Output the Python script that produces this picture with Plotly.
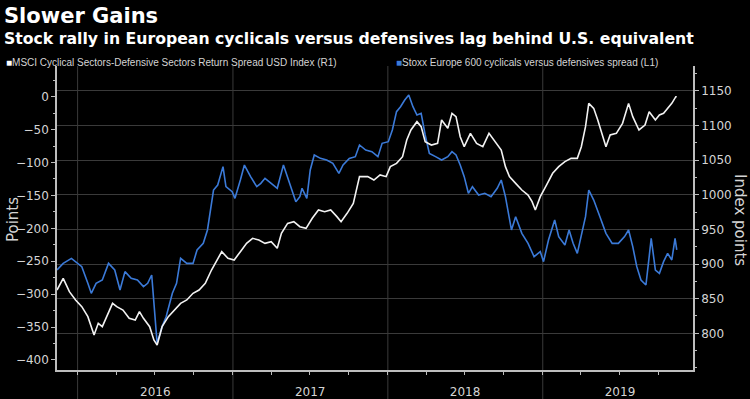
import datetime as dt
import plotly.graph_objects as go

# ---------------- data ----------------
# Stoxx Europe 600 cyclicals vs defensives spread (left axis, points); dates as decimal years
stoxx_t = [2015.867, 2015.907, 2015.960, 2015.987, 2016.027, 2016.066, 2016.088, 2016.119, 2016.159, 2016.199,
           2016.239, 2016.273, 2016.305, 2016.345, 2016.385, 2016.424, 2016.451, 2016.477, 2016.491, 2016.512,
           2016.544, 2016.570, 2016.610, 2016.637, 2016.663, 2016.703, 2016.743, 2016.769, 2016.809, 2016.836,
           2016.875, 2016.902, 2016.936, 2016.955, 2016.995, 2017.013, 2017.048, 2017.074, 2017.114, 2017.154,
           2017.180, 2017.207, 2017.247, 2017.286, 2017.326, 2017.366, 2017.406, 2017.432, 2017.446, 2017.477,
           2017.499, 2017.525, 2017.565, 2017.605, 2017.645, 2017.684, 2017.711, 2017.751, 2017.790, 2017.817,
           2017.857, 2017.897, 2017.936, 2017.963, 2018.003, 2018.029, 2018.056, 2018.082, 2018.109, 2018.135,
           2018.162, 2018.188, 2018.215, 2018.241, 2018.268, 2018.308, 2018.347, 2018.387, 2018.414, 2018.440,
           2018.467, 2018.493, 2018.520, 2018.546, 2018.586, 2018.626, 2018.666, 2018.706, 2018.732, 2018.759,
           2018.798, 2018.825, 2018.865, 2018.905, 2018.944, 2018.984, 2019.005, 2019.037, 2019.077, 2019.103,
           2019.143, 2019.170, 2019.196, 2019.223, 2019.249, 2019.276, 2019.297, 2019.329, 2019.369, 2019.408,
           2019.448, 2019.488, 2019.528, 2019.554, 2019.581, 2019.607, 2019.634, 2019.666, 2019.687, 2019.700,
           2019.727, 2019.753, 2019.780, 2019.806, 2019.833, 2019.854, 2019.865]
stoxx_v = [-263.3, -253.2, -245.6, -250.6, -258.2, -283.5, -298.7, -283.5, -278.5, -253.2,
           -263.3, -293.7, -265.8, -275.9, -278.5, -288.6, -283.5, -270.9, -313.9, -374.7,
           -349.3, -334.2, -298.7, -283.5, -245.6, -253.2, -253.2, -232.9, -222.8, -202.5,
           -141.8, -134.2, -106.3, -136.7, -144.3, -154.4, -126.6, -103.8, -121.5, -136.7,
           -131.6, -124.0, -131.6, -139.2, -103.8, -131.6, -159.5, -151.9, -139.2, -154.4,
           -111.4, -88.6, -93.7, -96.2, -101.3, -116.4, -103.8, -93.7, -91.1, -73.4,
           -81.0, -83.5, -91.1, -70.9, -68.4, -50.6, -22.8, -15.2, -5.1, 2.5,
           -15.2, -27.8, -25.3, -58.2, -86.1, -91.1, -96.2, -91.1, -83.5, -88.6,
           -103.8, -121.5, -146.8, -136.7, -149.4, -146.8, -151.9, -139.2, -126.6, -151.9,
           -202.5, -182.3, -207.6, -222.8, -243.0, -235.4, -250.6, -217.7, -187.3, -212.6,
           -225.3, -202.5, -222.8, -238.0, -212.6, -182.3, -141.8, -157.0, -182.3, -207.6,
           -222.8, -222.8, -212.6, -202.5, -227.8, -258.2, -278.5, -286.1, -243.0, -215.2,
           -263.3, -268.3, -250.6, -238.0, -248.1, -215.2, -232.9]

# MSCI Cyclical Sectors-Defensive Sectors Return Spread USD Index (right axis, index points)
msci_t = [2015.867, 2015.907, 2015.947, 2015.987, 2016.027, 2016.066, 2016.106, 2016.133, 2016.159, 2016.186,
          2016.225, 2016.252, 2016.292, 2016.332, 2016.371, 2016.398, 2016.424, 2016.464, 2016.491, 2016.512,
          2016.544, 2016.584, 2016.623, 2016.663, 2016.703, 2016.743, 2016.782, 2016.822, 2016.862, 2016.902,
          2016.928, 2016.968, 2017.008, 2017.048, 2017.088, 2017.127, 2017.167, 2017.207, 2017.247, 2017.286,
          2017.313, 2017.353, 2017.393, 2017.432, 2017.472, 2017.512, 2017.552, 2017.592, 2017.631, 2017.671,
          2017.698, 2017.737, 2017.777, 2017.817, 2017.870, 2017.910, 2017.950, 2017.989, 2018.016, 2018.056,
          2018.095, 2018.122, 2018.149, 2018.188, 2018.215, 2018.241, 2018.281, 2018.321, 2018.347, 2018.387,
          2018.414, 2018.440, 2018.467, 2018.493, 2018.533, 2018.573, 2018.613, 2018.653, 2018.692, 2018.732,
          2018.759, 2018.785, 2018.825, 2018.865, 2018.905, 2018.931, 2018.952, 2018.984, 2019.024, 2019.064,
          2019.103, 2019.143, 2019.183, 2019.223, 2019.249, 2019.276, 2019.297, 2019.329, 2019.355, 2019.382,
          2019.408, 2019.435, 2019.475, 2019.515, 2019.554, 2019.581, 2019.621, 2019.660, 2019.687, 2019.727,
          2019.753, 2019.780, 2019.806, 2019.833, 2019.859, 2019.865]
msci_v = [862.5, 879.3, 860.1, 848.1, 838.4, 824.0, 797.6, 814.4, 809.6, 824.0,
          843.2, 838.4, 833.6, 821.6, 819.2, 831.2, 821.6, 809.6, 790.4, 783.2,
          809.6, 824.0, 833.6, 843.2, 848.1, 857.7, 862.5, 872.1, 891.3, 908.2,
          917.8, 908.2, 905.8, 917.8, 929.8, 937.0, 934.6, 929.8, 932.2, 922.6,
          944.2, 958.6, 961.0, 953.8, 951.4, 965.9, 977.9, 975.5, 977.9, 968.3,
          961.0, 973.1, 987.5, 1026.0, 1026.0, 1021.1, 1028.4, 1026.0, 1040.4, 1045.2,
          1054.8, 1078.8, 1093.3, 1105.3, 1098.1, 1076.4, 1071.6, 1074.0, 1107.7, 1095.7,
          1117.3, 1112.5, 1083.6, 1069.2, 1088.5, 1074.0, 1069.2, 1088.5, 1076.4, 1064.4,
          1040.4, 1026.0, 1016.3, 1006.7, 999.5, 989.9, 977.9, 997.1, 1013.9, 1030.8,
          1040.4, 1047.6, 1052.4, 1052.4, 1069.2, 1098.1, 1131.7, 1124.5, 1107.7, 1088.5,
          1069.2, 1086.1, 1088.5, 1102.9, 1131.7, 1112.5, 1093.3, 1100.5, 1119.7, 1107.7,
          1114.9, 1117.3, 1124.5, 1131.7, 1141.3, 1141.3]

year_labels = ["2016", "2017", "2018", "2019"]
left_ticks = [0, -50, -100, -150, -200, -250, -300, -350, -400]
right_ticks = [800, 850, 900, 950, 1000, 1050, 1100, 1150]

title = "Slower Gains"
subtitle = "Stock rally in European cyclicals versus defensives lag behind U.S. equivalent"
msci_name = "MSCI Cyclical Sectors-Defensive Sectors Return Spread USD Index (R1)"
stoxx_name = "Stoxx Europe 600 cyclicals versus defensives spread (L1)"


def to_date(f):
    y = int(f)
    start = dt.datetime(y, 1, 1)
    days = (dt.datetime(y + 1, 1, 1) - start).days
    return start + dt.timedelta(days=(f - y) * days)


stoxx_d = [to_date(t) for t in stoxx_t]
msci_d = [to_date(t) for t in msci_t]

# ---------------- layout geometry ----------------
W, H = 750, 399
L, R, T, B = 57, 57, 66, 29
PW, PH = W - L - R, H - T - B


def px(x):
    return (x - L) / PW


def py(y):
    return (H - B - y) / PH


BLUE = "#3b7ad8"
WHITE = "#f2f2f2"
TXT = "#d4d4d4"
GRID = "#3a3a3a"
AXIS = "#bdbdbd"
TICKFONT = dict(family="DejaVu Sans, Liberation Sans, sans-serif", size=12, color=TXT)

fig = go.Figure()
fig.add_trace(go.Scatter(x=stoxx_d, y=stoxx_v, mode="lines", name=stoxx_name,
                         line=dict(color=BLUE, width=1.6), yaxis="y"))
fig.add_trace(go.Scatter(x=msci_d, y=msci_v, mode="lines", name=msci_name,
                         line=dict(color=WHITE, width=1.6), yaxis="y2"))

x_start = to_date(2015.867)
x_end = dt.datetime(2019, 12, 21)
years = [int(y) for y in year_labels]

fig.update_layout(
    width=W, height=H,
    margin=dict(l=L, r=R, t=T, b=B, pad=0, autoexpand=False),
    paper_bgcolor="black", plot_bgcolor="black",
    showlegend=False,
    xaxis=dict(
        type="date", range=[x_start, x_end], automargin=False,
        tickvals=[dt.datetime(y, 7, 2) for y in years], ticktext=year_labels,
        ticks="outside", ticklen=10, tickcolor="rgba(0,0,0,0)",
        tickfont=TICKFONT, showgrid=False, zeroline=False,
        showline=True, linecolor=AXIS, linewidth=1.5,
        minor=dict(tickvals=[dt.datetime(y, m, 1) for y in [2015] + years for m in (1, 4, 7, 10)
                             if x_start < dt.datetime(y, m, 1) < x_end],
                   ticks="outside", ticklen=3, tickcolor=AXIS, showgrid=False),
    ),
    yaxis=dict(
        range=[-415.2, 46.6], tickvals=left_ticks, ticks="outside", ticklen=4, tickcolor=AXIS,
        tickfont=TICKFONT, showgrid=False, zeroline=False, automargin=False,
        showline=True, linecolor=AXIS, linewidth=1.5,
        minor=dict(dtick=25, tick0=0, ticks="outside", ticklen=2, tickcolor=AXIS, showgrid=False),
    ),
    yaxis2=dict(
        range=[747.1, 1185.6], tickvals=right_ticks, side="right", overlaying="y",
        ticks="outside", ticklen=4, tickcolor=AXIS, tickfont=TICKFONT, automargin=False,
        showgrid=True, gridcolor=GRID, gridwidth=1, zeroline=False,
        showline=True, linecolor=AXIS, linewidth=1.5,
        minor=dict(dtick=25, tick0=0, ticks="outside", ticklen=2, tickcolor=AXIS, showgrid=False),
    ),
)

# year separators (extend below the axis)
for y in years:
    fig.add_shape(type="line", xref="x", yref="paper", x0=dt.datetime(y, 1, 1), x1=dt.datetime(y, 1, 1),
                  y0=py(H), y1=1, line=dict(color=GRID, width=1), layer="below")

ann = []
ann.append(dict(text="<b>" + title + "</b>", x=px(2), y=py(2), xanchor="left", yanchor="top",
                font=dict(family="DejaVu Sans", size=21, color="white")))
ann.append(dict(text="<b>" + subtitle + "</b>", x=px(2), y=py(27), xanchor="left", yanchor="top",
                font=dict(family="DejaVu Sans", size=15.7, color="white")))
LEGFONT = dict(family="Liberation Sans, Arial, sans-serif", size=10, color=TXT)
ann.append(dict(text="<span style='color:#ffffff'>■</span>" + msci_name, x=px(4), y=py(62),
                xanchor="left", yanchor="middle", font=LEGFONT))
ann.append(dict(text="<span style='color:%s'>■</span>" % BLUE + stoxx_name, x=px(394), y=py(62),
                xanchor="left", yanchor="middle", font=LEGFONT))
ann.append(dict(text="Points", x=px(13), y=py(220), textangle=-90, xanchor="center", yanchor="middle",
                font=dict(family="DejaVu Sans", size=15, color=TXT)))
ann.append(dict(text="Index points", x=px(740), y=py(220), textangle=90, xanchor="center", yanchor="middle",
                font=dict(family="DejaVu Sans", size=15, color=TXT)))
for a in ann:
    a.update(xref="paper", yref="paper", showarrow=False)
fig.update_layout(annotations=ann)

fig.write_html("out.html", config={"displayModeBar": False},
               post_script="document.body.style.margin='0';document.body.style.background='black';")
